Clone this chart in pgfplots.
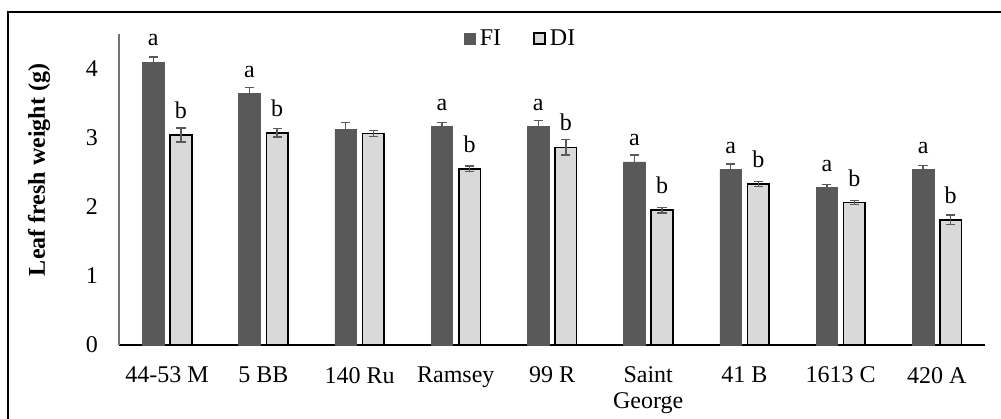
\documentclass[border=0pt]{standalone}
\usepackage{pgfplots}
\pgfplotsset{compat=1.18}
\usepackage{fontspec}
\setmainfont{Liberation Serif}
\definecolor{fi}{HTML}{595959}
\definecolor{di}{HTML}{D9D9D9}
\begin{document}
\begin{tikzpicture}
\useasboundingbox (0,0) rectangle (500.5pt,209pt);
\draw[line width=1.2pt] (4pt,-10pt) -- (4pt,203pt) -- (520pt,203pt);
\begin{axis}[
  at={(59.5pt,36.5pt)}, anchor=south west,
  scale only axis, width=433pt, height=155.5pt,
  xmin=-0.5, xmax=8.5, ymin=0, ymax=4.5,
  ytick={0,1,2,3,4},
  xtick={0,...,8},
  xticklabels={44-53 M,5 BB,140 Ru,Ramsey,99 R,Saint\\George,41 B,1613 C,420 A},
  xticklabel style={align=center, font=\fontsize{12pt}{13pt}\selectfont, yshift=-7.5pt},
  yticklabel style={font=\fontsize{12pt}{13pt}\selectfont, xshift=-7pt},
  /pgf/number format/assume math mode=true,
  major tick length=0pt,
  axis x line*=bottom, axis y line*=left,
  x axis line style={black, line width=0.9pt, -},
  y axis line style={black!55, line width=0.6pt, -},
  ylabel={Leaf fresh weight (g)},
  every axis y label/.style={at={(rel axis cs:-0.0924,0.563)}, rotate=90, anchor=center, font=\fontsize{12pt}{13pt}\selectfont\bfseries},
  ybar, bar width=10.8pt,
  nodes near coords, point meta=explicit symbolic,
  nodes near coords style={anchor=base, inner sep=0pt, yshift=8.2pt, font=\fontsize{12pt}{13pt}\selectfont, color=black},
  legend columns=2,
  legend style={at={(0.465,0.985)}, anchor=center, draw=none, fill=none,
    font=\fontsize{12pt}{13pt}\selectfont,
    /tikz/every even column/.append style={column sep=14pt}},
  legend image code/.code={\draw[#1] (0pt,-2.8pt) rectangle (5.6pt,2.8pt);},
  error bars/y dir=both, error bars/y explicit,
  error bars/error bar style={color=fi, line width=0.7pt},
  error bars/error mark options={rotate=90, mark size=2.3pt, line width=0.7pt, color=fi},
]
\addplot[fill=fi, draw=fi, line width=0.3pt, bar shift=-6.9pt] coordinates {
  (0,4.09) +- (0,0.08) [a]
  (1,3.64) +- (0,0.09) [a]
  (2,3.12) +- (0,0.10) [\phantom{a}]
  (3,3.16) +- (0,0.06) [a]
  (4,3.16) +- (0,0.09) [a]
  (5,2.65) +- (0,0.10) [a]
  (6,2.54) +- (0,0.08) [a]
  (7,2.28) +- (0,0.04) [a]
  (8,2.54) +- (0,0.06) [a]
};
\addlegendentry{FI}
\addplot[fill=di, draw=black, line width=0.8pt, bar shift=6.9pt] coordinates {
  (0,3.04) +- (0,0.10) [b]
  (1,3.07) +- (0,0.06) [b]
  (2,3.06) +- (0,0.04) [\phantom{b}]
  (3,2.55) +- (0,0.04) [b]
  (4,2.86) +- (0,0.11) [b]
  (5,1.95) +- (0,0.04) [b]
  (6,2.33) +- (0,0.04) [b]
  (7,2.06) +- (0,0.03) [b]
  (8,1.81) +- (0,0.07) [b]
};
\addlegendentry{DI}
\end{axis}
\end{tikzpicture}
\end{document}
